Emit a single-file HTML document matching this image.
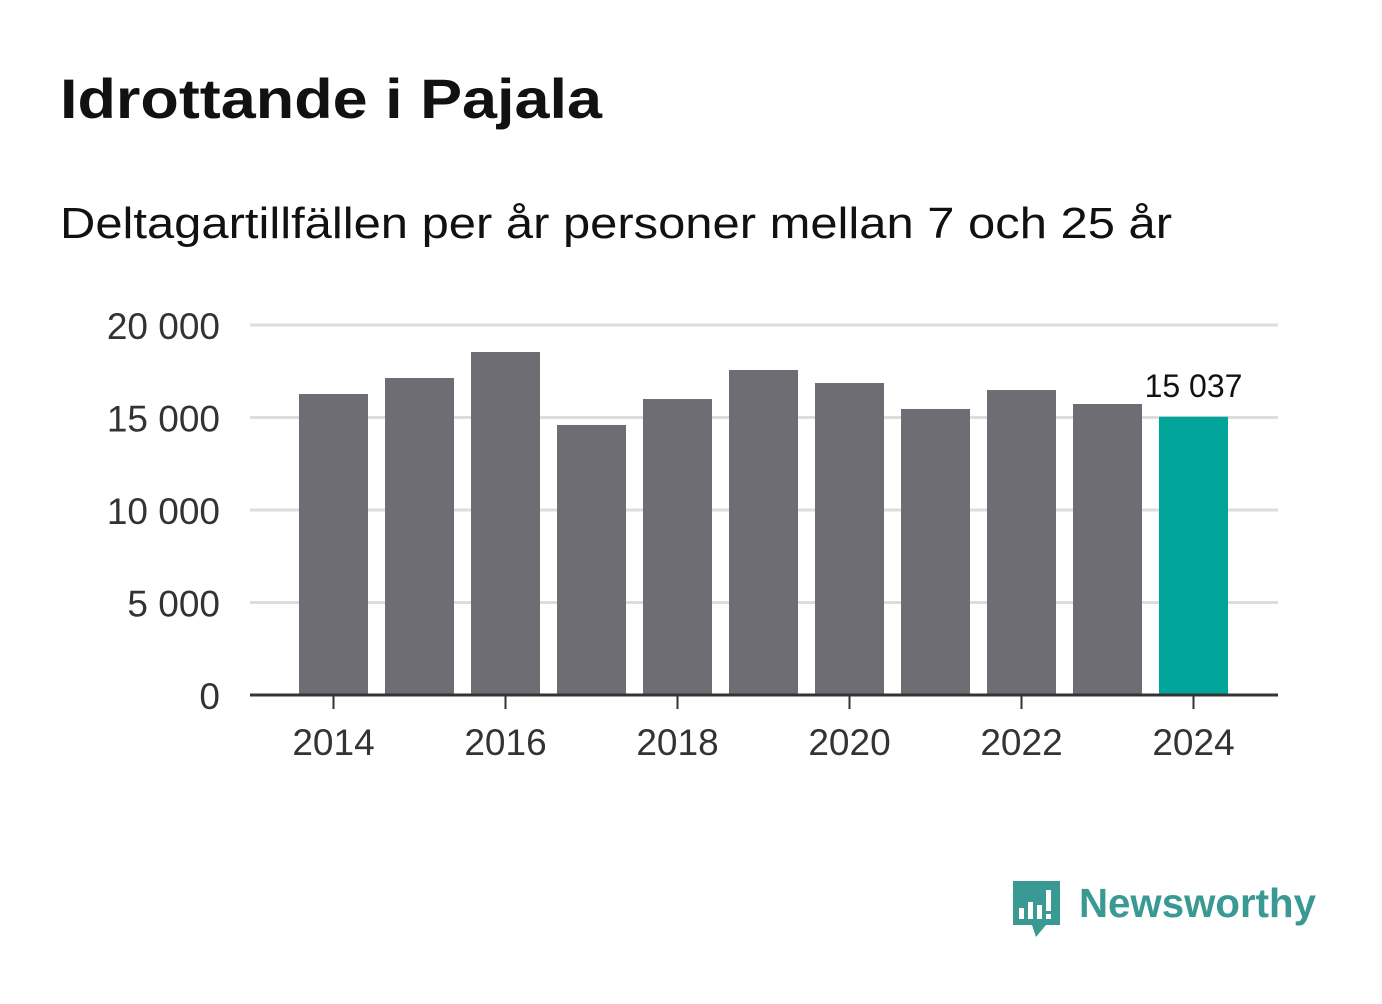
<!DOCTYPE html>
<html><head><meta charset="utf-8"><style>
body{margin:0;background:#fff;width:1382px;height:999px;overflow:hidden;font-family:"Liberation Sans","DejaVu Sans",sans-serif}
</style></head><body>
<svg width="1382" height="999" xmlns="http://www.w3.org/2000/svg">
<text x="60" y="118" font-size="56" font-weight="bold" fill="#111" textLength="542" lengthAdjust="spacingAndGlyphs">Idrottande i Pajala</text>
<text x="60" y="238" font-size="44" fill="#111" textLength="1112" lengthAdjust="spacingAndGlyphs">Deltagartillfällen per år personer mellan 7 och 25 år</text>
<g id="grid"></g><g id="bars"></g><g id="axis"></g>
<g>
<path d="M1013 881 h47 v44 h-14 l-10 12 l-4 -12 h-19 z" fill="#3a9a93"/>
<rect x="1019" y="908" width="5" height="11" fill="#fff"/><rect x="1028" y="902" width="5" height="17" fill="#fff"/><rect x="1037" y="905" width="5" height="14" fill="#fff"/><rect x="1046" y="890" width="5" height="21" fill="#fff"/><rect x="1046" y="914" width="5" height="5" fill="#fff"/>
<text x="1079" y="917" font-size="41" font-weight="bold" fill="#3a9a93" textLength="237" lengthAdjust="spacingAndGlyphs">Newsworthy</text>
</g>
</svg>
<script>
const years=[2014,2015,2016,2017,2018,2019,2020,2021,2022,2023,2024];
const values=[16270,17135,18540,14595,16000,17568,16865,15460,16486,15730,15037];
const yTicks=[0,5000,10000,15000,20000];
const yTickLabels=["0","5 000","10 000","15 000","20 000"];
const xTickYears=[2014,2016,2018,2020,2022,2024];
const NS="http://www.w3.org/2000/svg";
const y0=695,yScale=370/20000;
const y=v=>y0-v*yScale;
const xc=yr=>333.5+(yr-2014)*86;
function mk(t,a,p){const e=document.createElementNS(NS,t);for(const k in a)e.setAttribute(k,a[k]);p.appendChild(e);return e;}
const grid=document.getElementById('grid'),bars=document.getElementById('bars'),axis=document.getElementById('axis');
yTicks.forEach((v,i)=>{
 if(v>0){const l=mk('line',{x1:250,x2:1278,y1:y(v),y2:y(v),stroke:'#dddddd','stroke-width':3},grid);
 
 }
 const t=mk('text',{x:220,y:y(v)+14,'font-size':37,fill:'#333','text-anchor':'end'},axis);
 t.textContent=yTickLabels[i];
 
 
});
years.forEach((yr,i)=>{
 const last=i===years.length-1;
 const r=mk('rect',{x:xc(yr)-34.5,y:y(values[i]),width:69,height:y0-y(values[i]),fill:last?'#00a499':'#6e6d73'},bars);
 
 
 if(last){const t=mk('text',{x:xc(yr),y:y(values[i])-20,'font-size':32,fill:'#111','text-anchor':'middle'},bars);
 t.textContent=values[i].toString().replace(/\B(?=(\d{3})+(?!\d))/g,' ');
 
 }
});
const ax=mk('line',{x1:250,x2:1278,y1:y0,y2:y0,stroke:'#333','stroke-width':3},axis);


xTickYears.forEach(yr=>{
 const tk=mk('line',{x1:xc(yr),x2:xc(yr),y1:y0,y2:y0+14,stroke:'#333','stroke-width':2},axis);
 
 
 const t=mk('text',{x:xc(yr),y:755,'font-size':37,fill:'#333','text-anchor':'middle'},axis);
 t.textContent=yr;
 
 
});
</script>
</body></html>
